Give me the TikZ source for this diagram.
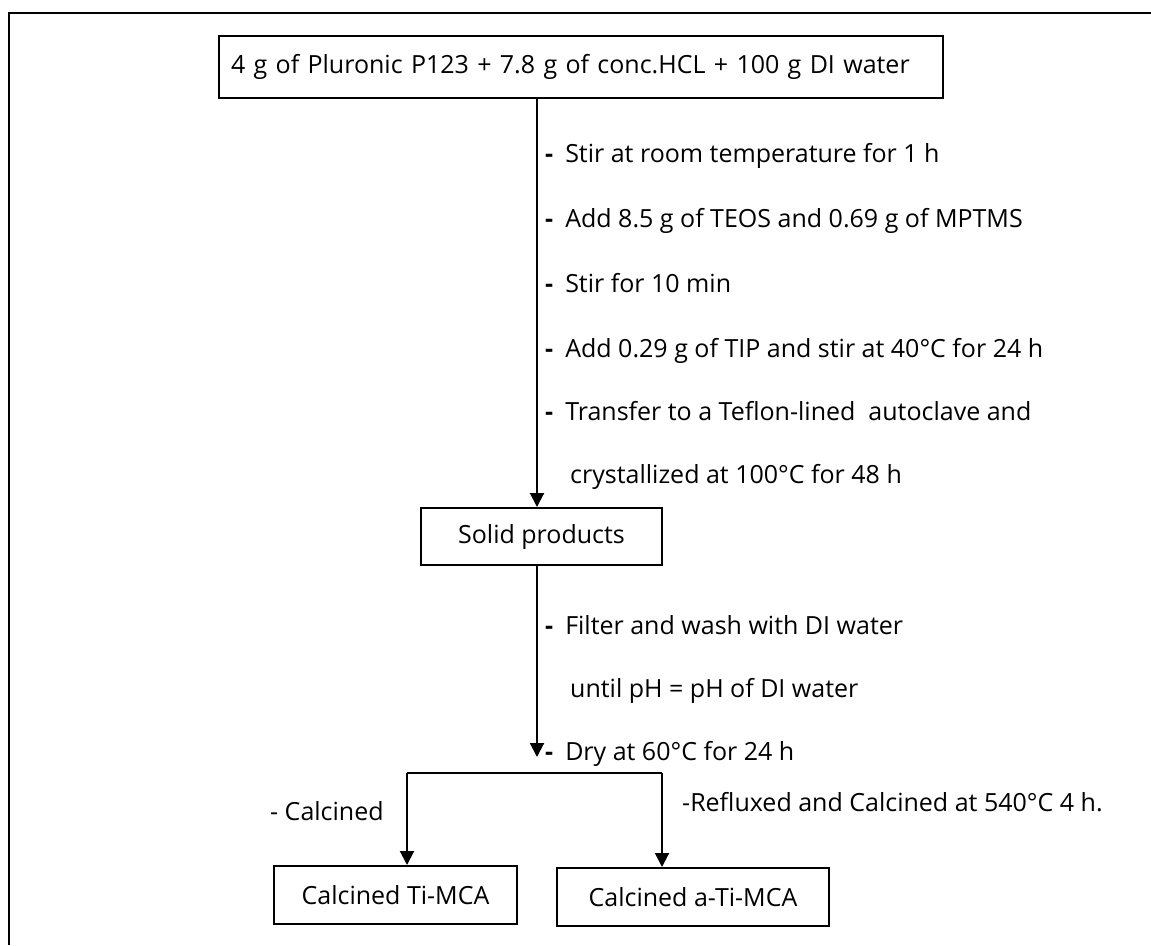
\documentclass[tikz,border=0pt]{standalone}
\usepackage{fontspec}
\setmainfont{Open Sans}
\usetikzlibrary{arrows.meta}
\begin{document}
\begin{tikzpicture}[x=1pt,y=-1pt,
  box/.style={draw,line width=2pt,inner sep=0pt,font=\fontsize{25}{30}\selectfont},
  txt/.style={anchor=base west,inner sep=0pt,font=\fontsize{25}{30}\selectfont},
  conn/.style={line width=2pt},
  arr/.style={line width=2pt,-{Triangle[width=14pt,length=14pt]}}]
\useasboundingbox (0,0) rectangle (1151,945);
\draw[line width=2pt] (8.7,945) -- (8.7,13) -- (1151,13);
% boxes
\node[box,anchor=north west,minimum height=62pt,text width=700pt,inner xsep=12pt,align=left] (top) at (218,35) {4 g of Pluronic P123 + 7.8 g of conc.HCL + 100 g DI water};
\node[box,anchor=north west,minimum width=241pt,minimum height=57pt] (solid) at (420,507) {Solid products};
\node[box,anchor=north west,minimum width=243pt,minimum height=58pt] (ti) at (273,865) {Calcined Ti-MCA};
\node[box,anchor=north west,minimum width=272pt,minimum height=58pt] (ati) at (556,867) {Calcined a-Ti-MCA};
% coordinates
\coordinate (t1) at (537,97);
\coordinate (s1) at (537,507);
\coordinate (s2) at (537,564);
\coordinate (d1) at (537,757);
\coordinate (bl) at (407,773);
\coordinate (br) at (662,773);
\coordinate (tl) at (407,865);
\coordinate (tr) at (662,867);
\draw[arr] (t1) -- (s1);
\draw[arr] (s2) -- (d1);
\draw[conn] (bl) -- (br);
\draw[arr] (bl) -- (tl);
\draw[arr] (br) -- (tr);
% step texts
\node[txt] (a1) at (545,162) {\textbf{-}\hspace{12pt}Stir at room temperature for 1 h};
\node[txt] (a2) at (545,227) {\textbf{-}\hspace{12pt}Add 8.5 g of TEOS and 0.69 g of MPTMS};
\node[txt] (a3) at (545,292) {\textbf{-}\hspace{12pt}Stir for 10 min};
\node[txt] (a4) at (545,357) {\textbf{-}\hspace{12pt}Add 0.29 g of TIP and stir at 40°C for 24 h};
\node[txt] (a5) at (545,420) {\textbf{-}\hspace{12pt}Transfer to a Teflon-lined\ \ autoclave and};
\node[txt] (a6) at (570,483) {crystallized at 100°C for 48 h};
\node[txt] (b1) at (545,634) {\textbf{-}\hspace{12pt}Filter and wash with DI water};
\node[txt] (b2) at (570,697) {until pH = pH of DI water};
\node[txt] (b3) at (545,760) {\textbf{-}\hspace{12pt}Dry at 60°C for 24 h};
\node[txt] (c1) at (270,820) {- Calcined};
\node[txt] (c2) at (682,811) {-Refluxed and Calcined at 540°C 4 h.};
\end{tikzpicture}
\end{document}
